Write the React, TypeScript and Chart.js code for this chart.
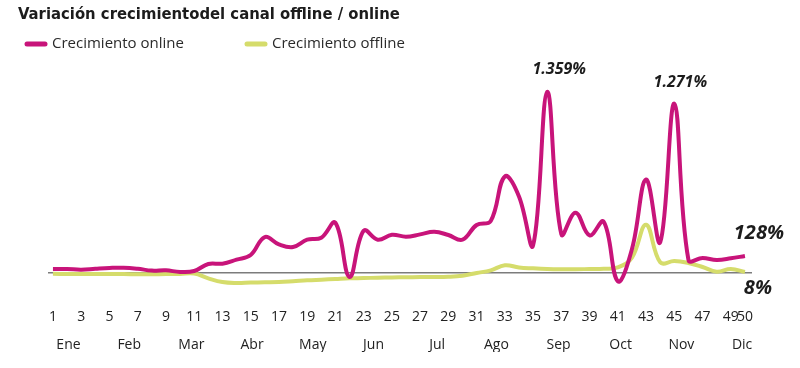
import React, { useEffect, useRef } from "react";
import { Chart, registerables } from "chart.js";

Chart.register(...registerables);

// ---- data ----
const weeks = [
  1, 2, 3, 4, 5, 6, 7, 8, 9, 10, 11, 12, 13, 14, 15, 16, 17, 18, 19, 20, 21, 22, 23, 24, 25,
  26, 27, 28, 29, 30, 31, 32, 33, 34, 35, 36, 37, 38, 39, 40, 41, 42, 43, 44, 45, 46, 47, 48, 49, 50,
];
const onlineGrowth = [
  30, 30, 25, 32, 38, 40, 32, 18, 20, 8, 15, 68, 70, 100, 135, 270, 215, 195, 250, 265, 377, -30, 317, 250, 287,
  272, 290, 310, 285, 250, 360, 390, 725, 574, 208, 1359, 290, 453, 283, 385, -62, 180, 702, 230, 1271, 98, 113, 98, 110, 128,
];
const offlineGrowth = [
  -6, -7, -8, -8, -7, -8, -9, -9, -8, -7, -4, -40, -68, -75, -72, -70, -68, -62, -55, -50, -45, -40, -38, -35, -33,
  -32, -30, -30, -28, -20, 0, 20, 58, 42, 35, 30, 28, 28, 30, 32, 42, 115, 362, 80, 90, 75, 45, 10, 30, 8,
];
const seriesNames = ["Crecimiento online", "Crecimiento offline"];
const weekTickLabels = [1, 3, 5, 7, 9, 11, 13, 15, 17, 19, 21, 23, 25, 27, 29, 31, 33, 35, 37, 39, 41, 43, 45, 47, 49, 50];
const monthLabels = ["Ene", "Feb", "Mar", "Abr", "May", "Jun", "Jul", "Ago", "Sep", "Oct", "Nov", "Dic"];
const monthMidWeeks = [2.1, 6.4, 10.8, 15.1, 19.4, 23.7, 28.2, 32.4, 36.8, 41.2, 45.5, 49.8];
const titleText = "Variación crecimientodel canal offline / online";

const ONLINE = "#C8147A";
const OFFLINE = "#D5DC6B";
const TEXT = "#1c1c1c";

function fmtPct(v: number): string {
  const s = Math.round(v).toString();
  return s.replace(/\B(?=(\d{3})+(?!\d))/g, ".") + "%";
}

const legendPlugin = {
  id: "customLegend",
  afterDraw(chart: any) {
    const ctx = chart.ctx;
    const starts = [25, 245];
    const y = 44;
    ctx.save();
    chart.data.datasets.forEach((ds: any, i: number) => {
      const x = starts[i];
      ctx.strokeStyle = ds.borderColor;
      ctx.lineWidth = 5;
      ctx.lineCap = "round";
      ctx.beginPath();
      ctx.moveTo(x + 2, y);
      ctx.lineTo(x + 20, y);
      ctx.stroke();
      ctx.fillStyle = "#2a2a2a";
      ctx.font = '15px "Open Sans", sans-serif';
      ctx.textAlign = "left";
      ctx.textBaseline = "middle";
      ctx.fillText(ds.label, x + 27, y);
    });
    ctx.restore();
  },
};

const valueLabelPlugin = {
  id: "valueLabels",
  afterDraw(chart: any) {
    const ctx = chart.ctx;
    const items = [
      { ds: 0, week: 36, dx: 12, dy: -22, size: 16 },
      { ds: 0, week: 45, dx: 6, dy: -21, size: 16 },
      { ds: 0, week: 50, dx: 14, dy: -23, size: 20 },
      { ds: 1, week: 50, dx: 13, dy: 16, size: 20 },
    ];
    ctx.save();
    items.forEach((it) => {
      const idx = weeks.indexOf(it.week);
      const meta = chart.getDatasetMeta(it.ds);
      const pt = meta.data[idx];
      const val = chart.data.datasets[it.ds].data[idx].y;
      ctx.fillStyle = TEXT;
      ctx.font = `italic bold ${it.size}px "Open Sans", sans-serif`;
      ctx.textAlign = "center";
      ctx.textBaseline = "middle";
      ctx.fillText(fmtPct(val), pt.x + it.dx, pt.y + it.dy);
    });
    ctx.restore();
  },
};

export default function App() {
  const canvasRef = useRef<HTMLCanvasElement | null>(null);

  useEffect(() => {
    document.body.style.margin = "0";
    const canvas = canvasRef.current;
    if (!canvas) return;
    const tickFont = { family: '"Open Sans", sans-serif', size: 14 };
    const chart = new Chart(canvas, {
      type: "line",
      data: {
        datasets: [
          {
            label: seriesNames[0],
            data: weeks.map((w, i) => ({ x: w, y: onlineGrowth[i] })),
            borderColor: ONLINE,
            backgroundColor: ONLINE,
            borderWidth: 4,
            pointRadius: 0,
            tension: 0.4,
            order: 1,
          },
          {
            label: seriesNames[1],
            data: weeks.map((w, i) => ({ x: w, y: offlineGrowth[i] })),
            borderColor: OFFLINE,
            backgroundColor: OFFLINE,
            borderWidth: 4,
            pointRadius: 0,
            tension: 0.4,
            order: 2,
          },
        ],
      },
      options: {
        animation: false,
        responsive: true,
        maintainAspectRatio: false,
        layout: { padding: { left: 18, right: 48, top: 0, bottom: 16 } },
        plugins: {
          legend: { display: false },
          tooltip: { enabled: false },
          title: {
            display: true,
            text: titleText,
            align: "start",
            color: TEXT,
            font: { family: '"DejaVu Sans Condensed", "DejaVu Sans", sans-serif', size: 16.5, weight: "bold" },
            padding: { top: 5, bottom: 35 },
          },
        },
        scales: {
          x: {
            type: "linear",
            min: 0.65,
            max: 50.5,
            afterBuildTicks: (scale: any) => {
              scale.ticks = weekTickLabels.map((v) => ({ value: v }));
            },
            afterFit: (scale: any) => {
              scale.height = 32;
            },
            ticks: {
              autoSkip: false,
              maxRotation: 0,
              padding: 16,
              color: "#222",
              font: tickFont,
              callback: (v: any) => String(v),
            },
            grid: { display: false, drawTicks: false },
            border: { display: false },
          },
          x2: {
            type: "linear",
            position: "bottom",
            min: 0.65,
            max: 50.5,
            afterBuildTicks: (scale: any) => {
              scale.ticks = monthMidWeeks.map((v) => ({ value: v }));
            },
            afterFit: (scale: any) => {
              scale.height = 27;
            },
            ticks: {
              autoSkip: false,
              maxRotation: 0,
              padding: 12,
              color: "#222",
              font: tickFont,
              callback: (_v: any, i: number) => monthLabels[i],
            },
            grid: { display: false, drawTicks: false },
            border: { display: false },
          },
          y: {
            min: -150,
            max: 1600,
            afterFit: (scale: any) => {
              scale.width = 30;
            },
            ticks: { display: false, stepSize: 50 },
            grid: {
              drawTicks: false,
              lineWidth: 1.5,
              color: (c: any) => (c.tick && c.tick.value === 0 ? "#7c7c7c" : "rgba(0,0,0,0)"),
            },
            border: { display: false },
          },
        },
      },
      plugins: [legendPlugin, valueLabelPlugin],
    });
    return () => chart.destroy();
  }, []);

  return (
    <div style={{ width: 800, height: 368, position: "relative", background: "#fff" }}>
      <canvas ref={canvasRef} />
    </div>
  );
}
